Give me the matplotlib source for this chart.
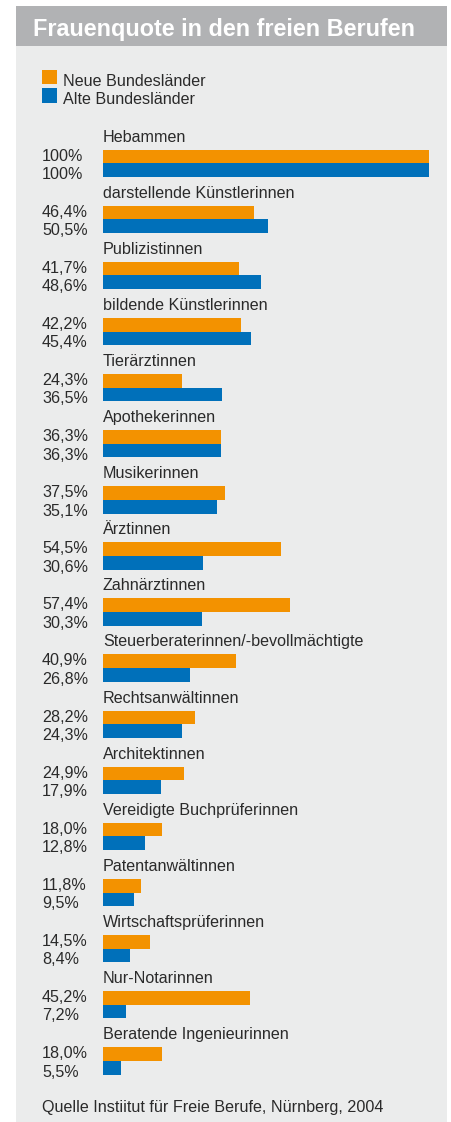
import matplotlib
matplotlib.use("Agg")
import matplotlib.pyplot as plt
from matplotlib.patches import Rectangle
import matplotlib.transforms as mtransforms

plt.rcParams['font.family'] = ['Liberation Sans', 'DejaVu Sans']

title = "Frauenquote in den freien Berufen"
series_names = ["Neue Bundesländer", "Alte Bundesländer"]
categories = ["Hebammen", "darstellende Künstlerinnen", "Publizistinnen",
              "bildende Künstlerinnen", "Tierärztinnen", "Apothekerinnen",
              "Musikerinnen", "Ärztinnen", "Zahnärztinnen",
              "Steuerberaterinnen/-bevollmächtigte", "Rechtsanwältinnen",
              "Architektinnen", "Vereidigte Buchprüferinnen", "Patentanwältinnen",
              "Wirtschaftsprüferinnen", "Nur-Notarinnen", "Beratende Ingenieurinnen"]
neue = [100, 46.4, 41.7, 42.2, 24.3, 36.3, 37.5, 54.5, 57.4, 40.9, 28.2, 24.9,
        18.0, 11.8, 14.5, 45.2, 18.0]
alte = [100, 50.5, 48.6, 45.4, 36.5, 36.3, 35.1, 30.6, 30.3, 26.8, 24.3, 17.9,
        12.8, 9.5, 8.4, 7.2, 5.5]
neue_labels = ["100%", "46,4%", "41,7%", "42,2%", "24,3%", "36,3%", "37,5%", "54,5%",
               "57,4%", "40,9%", "28,2%", "24,9%", "18,0%", "11,8%", "14,5%", "45,2%", "18,0%"]
alte_labels = ["100%", "50,5%", "48,6%", "45,4%", "36,5%", "36,3%", "35,1%", "30,6%",
               "30,3%", "26,8%", "24,3%", "17,9%", "12,8%", "9,5%", "8,4%", "7,2%", "5,5%"]
source = "Quelle Instiitut für Freie Berufe, Nürnberg, 2004"

ORANGE = "#F39200"
BLUE = "#0070BA"
BG = "#EBECEC"
BAR_GREY = "#B1B2B4"
TXT = "#2a2a2a"
FS = 11.6

W, H = 452, 1122
fig = plt.figure(figsize=(W / 100, H / 100), dpi=100)
fig.patch.set_facecolor("white")

# background decorations in pixel coordinates
bg = fig.add_axes([0, 0, 1, 1])
bg.set_xlim(0, W)
bg.set_ylim(H, 0)
bg.axis("off")
bg.add_patch(Rectangle((16, 6), 431, H - 6, facecolor=BG, edgecolor="none"))
bg.add_patch(Rectangle((16, 6), 431, 40, facecolor=BAR_GREY, edgecolor="none"))
bg.text(33, 36, title, color="white", fontsize=16.8, fontweight="bold", va="baseline", ha="left")
bg.add_patch(Rectangle((42.5, 69.5), 14.5, 14, facecolor=ORANGE, edgecolor="none"))
bg.add_patch(Rectangle((42.5, 88), 14.5, 14.5, facecolor=BLUE, edgecolor="none"))
bg.text(63, 86, series_names[0], fontsize=FS, color=TXT, va="baseline", ha="left")
bg.text(63, 104, series_names[1], fontsize=FS, color=TXT, va="baseline", ha="left")
bg.text(42, 1112, source, fontsize=FS, color=TXT, va="baseline", ha="left")

# bar axes
top_px, bot_px = 120, 1080
left_px, right_px = 103, 429
start = 149.5
step = 56.1
ax = fig.add_axes([left_px / W, 1 - bot_px / H, (right_px - left_px) / W, (bot_px - top_px) / H])
ax.set_xlim(0, 100)
ax.set_ylim((bot_px - start) / step, (top_px - start) / step)
ax.axis("off")
ax.patch.set_alpha(0)

h = 13.7 / step
ys = list(range(len(categories)))
ax.barh([y + h / 2 for y in ys], neue, height=h, color=ORANGE, linewidth=0)
ax.barh([y + 1.5 * h for y in ys], alte, height=h, color=BLUE, linewidth=0)

trans = mtransforms.blended_transform_factory(fig.transFigure, ax.transData)
for y, c, nl, al in zip(ys, categories, neue_labels, alte_labels):
    ax.text(0, y - 8 / step, c, fontsize=FS, color=TXT, va="baseline", ha="left")
    ax.text(42 / W, y + 11 / step, nl, fontsize=FS, color=TXT, va="baseline", ha="left", transform=trans)
    ax.text(42 / W, y + 29.5 / step, al, fontsize=FS, color=TXT, va="baseline", ha="left", transform=trans)

fig.savefig("out.png", dpi=100, facecolor="white")
